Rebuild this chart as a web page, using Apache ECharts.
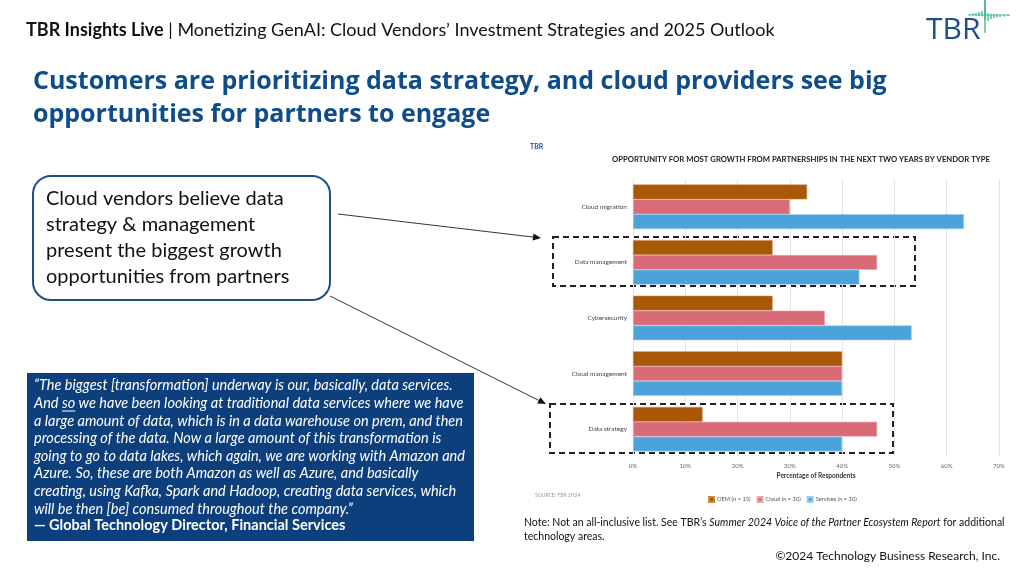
<!DOCTYPE html>
<html><head><meta charset="utf-8">
<script src="https://cdn.jsdelivr.net/npm/echarts@6/dist/echarts.min.js"></script>
<style>html,body{margin:0;padding:0;background:#fff}#c{width:1030px;height:574px}</style>
</head><body><div id="c"></div>
<script>
const categories = ['Cloud migration','Data management','Cybersecurity','Cloud management','Data strategy'];
const oemValues = [33.3, 26.7, 26.7, 40.0, 13.3];
const cloudValues = [30.0, 46.7, 36.7, 40.0, 46.7];
const servicesValues = [63.3, 43.3, 53.3, 40.0, 40.0];
const seriesNames = ['OEM (n = 15)','Cloud (n = 30)','Services (n = 30)'];
const xTicks = [0,10,20,30,40,50,60,70];

const F = 'Lato, "Open Sans", sans-serif';
const chart = echarts.init(document.getElementById('c'));
const cv = document.createElement('canvas').getContext('2d');
function tw(font, s){ cv.font = font; return cv.measureText(s).width; }

function arrow(x1,y1,x2,y2){
  const a = Math.atan2(y2-y1,x2-x1), L=8, W=3.5;
  const bx = x2 - L*Math.cos(a), by = y2 - L*Math.sin(a);
  return [
    {type:'line',shape:{x1:x1,y1:y1,x2:bx,y2:by},style:{stroke:'#333',lineWidth:1}},
    {type:'polygon',shape:{points:[[x2,y2],[bx+W*Math.sin(a),by-W*Math.cos(a)],[bx-W*Math.sin(a),by+W*Math.cos(a)]]},style:{fill:'#111'}}
  ];
}
const quote = [
 '\u201cThe biggest [transformation] underway is our, basically, data services.',
 'And so we have been looking at traditional data services where we have',
 'a large amount of data, which is in a data warehouse on prem, and then',
 'processing of the data. Now a large amount of this transformation is',
 'going to go to data lakes, which again, we are working with Amazon and',
 'Azure. So, these are both Amazon as well as Azure, and basically',
 'creating, using Kafka, Spark and Hadoop, creating data services, which',
 'will be then [be] consumed throughout the company.\u201d'
];
const g = [];
// header
g.push({type:'text',left:26,top:21,style:{text:'{b|TBR Insights Live} | Monetizing GenAI: Cloud Vendors\u2019 Investment Strategies and 2025 Outlook',font:'18px '+F,fill:'#111',rich:{b:{font:'bold 18px '+F,fill:'#111'}}}});
// logo
g.push({type:'text',left:926,top:15,style:{text:'TBR',font:'30px "Open Sans", sans-serif',fill:'#1B4F8F'}});
const wave=[[970,1],[973,1.5],[976,2],[979,3],[982,4],[985,16],[988,6],[991,4],[994,3],[997,2.5],[1000,2],[1004,1.5],[1008,1]];
wave.forEach((w,i)=>{const up = w[0]<=985; g.push({type:'line',shape:{x1:w[0],y1:up?15-w[1]:15-w[1]*0.3,x2:w[0],y2:up?15+w[1]*0.3:15+w[1]},style:{stroke:'#3BB08F',lineWidth:1.3}});});
g.push({type:'line',shape:{x1:985,y1:0,x2:985,y2:33},style:{stroke:'#3BB08F',lineWidth:1.3}});
g.push({type:'line',shape:{x1:968,y1:15,x2:1010,y2:15},style:{stroke:'#3BB08F',lineWidth:0.8}});
// title
g.push({type:'text',left:33,top:65,style:{text:'Customers are prioritizing data strategy, and cloud providers see big\nopportunities for partners to engage',font:'bold 25px "Open Sans", sans-serif',fill:'#0E4C8A',lineHeight:33}});
// callout
g.push({type:'rect',shape:{x:33,y:176,width:297,height:124,r:18},style:{fill:'#fff',stroke:'#1F4E89',lineWidth:2}});
g.push({type:'text',left:46,top:186,style:{text:'Cloud vendors believe data\nstrategy & management\npresent the biggest growth\nopportunities from partners',font:'20px '+F,fill:'#111',lineHeight:26}});
arrow(338,214,541,238).forEach(e=>g.push(e));
arrow(330,296,546,404).forEach(e=>g.push(e));
// quote box
const qf = 'italic 14.5px ' + F;
g.push({type:'rect',shape:{x:27,y:373,width:447,height:168},style:{fill:'#0C3F7C'}});
g.push({type:'text',left:34,top:377,style:{text:quote.join('\n'),font:qf,fill:'#fff',lineHeight:17.6}});
const sx = 34 + tw(qf,'And '), sw = tw(qf,'so');
g.push({type:'line',shape:{x1:sx,y1:411,x2:sx+sw,y2:411},style:{stroke:'#fff',lineWidth:1}});
g.push({type:'text',left:34,top:518,style:{text:'\u2014 Global Technology Director, Financial Services',font:'bold 14.5px '+F,fill:'#fff'}});
// chart annotations
g.push({type:'text',left:530,top:143,style:{text:'TBR',font:'bold 7px '+F,fill:'#1F4E89'}});
g.push({type:'text',left:535,top:493,style:{text:'SOURCE: TBR 1H24',font:'5px '+F,fill:'#999'}});
g.push({type:'rect',shape:{x:553,y:237,width:362,height:49},style:{fill:'none',stroke:'#222',lineWidth:2,lineDash:[6,4]}});
g.push({type:'rect',shape:{x:550,y:404,width:343,height:49},style:{fill:'none',stroke:'#222',lineWidth:2,lineDash:[6,4]}});
// note
g.push({type:'text',left:524,top:516,style:{text:'Note: Not an all-inclusive list. See TBR\u2019s {i|Summer 2024 Voice of the Partner Ecosystem Report} for additional\ntechnology areas.',font:'10.5px '+F,fill:'#111',lineHeight:14,rich:{i:{font:'italic 10.5px '+F,fill:'#111'}}}});
g.push({type:'text',right:30,top:550,style:{text:'\u00a92024 Technology Business Research, Inc.',font:'12px '+F,fill:'#111'}});

const colors=['#A85806','#D96A77','#4BA3D9'];
const borders=['#C98a4a','#F0A8B0','#9CCDF0'];
const vals=[oemValues,cloudValues,servicesValues];
chart.setOption({
  animation:false,
  title:{text:'OPPORTUNITY FOR MOST GROWTH FROM PARTNERSHIPS IN THE NEXT TWO YEARS BY VENDOR TYPE',left:796,top:151,textAlign:'center',textStyle:{fontFamily:F,fontSize:7.7,fontWeight:'bold',color:'#222'}},
  legend:{top:491,left:703,itemWidth:5,itemHeight:5,itemGap:6,icon:'rect',textStyle:{fontFamily:F,fontSize:5.7,color:'#555',padding:[0,0,0,-2]},data:seriesNames},
  grid:{left:633,right:31,top:179,bottom:117},
  xAxis:{type:'value',min:0,max:70,interval:10,axisLabel:{formatter:'{value}%',fontSize:6,color:'#666',fontFamily:F,margin:6},
    splitLine:{lineStyle:{color:'#e4e4e4'}},axisLine:{show:false},axisTick:{show:false},
    name:'Percentage of Respondents',nameLocation:'middle',nameGap:15,nameTextStyle:{fontFamily:F,fontSize:6.5,fontWeight:'bold',color:'#333'}},
  yAxis:{type:'category',data:categories,inverse:true,axisLine:{show:false},axisTick:{show:false},
    axisLabel:{fontSize:6.5,color:'#444',fontFamily:F,margin:6}},
  series:seriesNames.map((n,i)=>({name:n,type:'bar',data:vals[i],barGap:'0%',barCategoryGap:'20%',
    itemStyle:{color:colors[i],borderColor:borders[i],borderWidth:0.6}})),
  graphic:g
});
</script></body></html>
